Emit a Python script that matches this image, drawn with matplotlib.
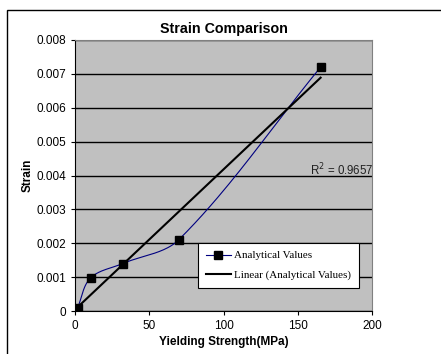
import numpy as np
import matplotlib.pyplot as plt
from matplotlib.patches import Rectangle

# data
yield_strength = [1.8, 10.6, 32.1, 69.8, 165.4]
strain = [0.0001, 0.00098, 0.0014, 0.0021, 0.0072]
r2_text = "R$^2$ = 0.9657"


def smooth_curve(xs, ys, xspan, yspan, n=40):
    # Excel-like smoothed line: cubic Bezier segments, tangents scaled by chord length
    pts = np.column_stack([np.array(xs) / xspan, np.array(ys) / yspan])
    out = []
    for i in range(len(pts) - 1):
        p0 = pts[i - 1] if i > 0 else pts[i]
        p1 = pts[i]
        p2 = pts[i + 1]
        p3 = pts[i + 2] if i + 2 < len(pts) else pts[i + 1]
        seg = np.linalg.norm(p2 - p1)
        d1 = p2 - p0
        d2 = p3 - p1
        c1 = p1 + d1 / max(np.linalg.norm(d1), 1e-9) * seg / 3.0
        c2 = p2 - d2 / max(np.linalg.norm(d2), 1e-9) * seg / 3.0
        for t in np.linspace(0, 1, n):
            b = (1 - t)**3 * p1 + 3 * (1 - t)**2 * t * c1 + 3 * (1 - t) * t**2 * c2 + t**3 * p2
            out.append(b)
    out = np.array(out)
    return out[:, 0] * xspan, out[:, 1] * yspan


plt.rcParams['font.family'] = ['Liberation Sans', 'DejaVu Sans']

fig = plt.figure(figsize=(4.41, 3.54), dpi=100)
fig.patches.append(Rectangle((7 / 441, -0.1), 1.2, 1.1 - 10 / 354, transform=fig.transFigure,
                             fill=False, edgecolor='black', linewidth=1.0))

ax = fig.add_axes([75 / 441, 43 / 354, 297 / 441, 271 / 354])
ax.set_facecolor('#c0c0c0')

sx, sy = smooth_curve(yield_strength, strain, 200, 0.008)
ax.plot(sx, sy, color='#000080', linewidth=0.8, zorder=3)
ax.plot(yield_strength, strain, linestyle='none', marker='s', markersize=6,
        color='black', zorder=4)

# linear trendline
k, b = np.polyfit(yield_strength, strain, 1)
tx = np.array([min(yield_strength), max(yield_strength)])
ax.plot(tx, k * tx + b, color='black', linewidth=1.5, zorder=3)

ax.text(158, 0.00415, r2_text, fontsize=8.3, ha='left', va='center', color='#222222')

ax.set_xlim(0, 200)
ax.set_ylim(0, 0.008)
ax.set_xticks(np.arange(0, 201, 50))
ax.set_yticks(np.arange(0, 0.0081, 0.001))
ax.set_yticklabels(['0', '0.001', '0.002', '0.003', '0.004', '0.005', '0.006', '0.007', '0.008'])
ax.yaxis.grid(True, color='black', linewidth=1.0)
ax.set_axisbelow(True)
ax.tick_params(labelsize=8.5, length=3, direction='out', width=0.8)

for side in ['top', 'right']:
    ax.spines[side].set_color('#808080')
for side in ['left', 'bottom']:
    ax.spines[side].set_color('black')

ax.set_title('Strain Comparison', fontsize=10.3, fontweight='bold', pad=5)
ax.set_xlabel('Yielding Strength(MPa)', fontsize=8.5, fontweight='bold', labelpad=3)
ax.set_ylabel('Strain', fontsize=8.5, fontweight='bold', labelpad=2)

h1, = ax.plot([], [], color='#000080', linewidth=0.8, marker='s', markersize=6,
              markerfacecolor='black', markeredgecolor='black')
h2, = ax.plot([], [], color='black', linewidth=1.5)
leg = ax.legend([h1, h2], ['Analytical Values', 'Linear (Analytical Values)'],
                loc='lower left', bbox_to_anchor=(0.414, 0.085), borderaxespad=0,
                fancybox=False, framealpha=1, edgecolor='black',
                prop={'family': 'Liberation Serif', 'size': 7.9},
                handlelength=2.3, handletextpad=0.3, borderpad=0.7, labelspacing=0.9)
leg.get_frame().set_linewidth(0.8)

fig.savefig('out.png', dpi=100)
